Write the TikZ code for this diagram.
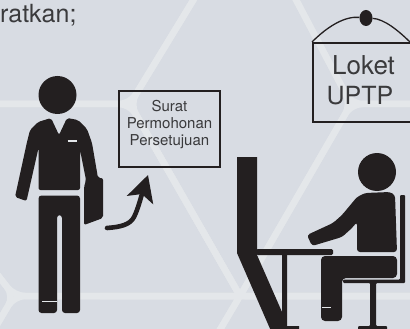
\documentclass[tikz,border=0pt]{standalone}
\usepackage{fontspec}
\setmainfont{TeX Gyre Heros}
\usetikzlibrary{arrows.meta, positioning, shapes.geometric}
\definecolor{sheetBg}{HTML}{D8DCE3}
\definecolor{sheetLine}{HTML}{E4E7EA}
\definecolor{figDark}{HTML}{231F20}
\definecolor{textDark}{HTML}{3A3A3C}

\begin{document}
\begin{tikzpicture}[
  x=1pt, y=-1pt,
  bgline/.style={draw=sheetLine, line width=6.5pt, rounded corners=11pt, line join=round},
  fig/.style={fill=figDark, draw=none},
  slit/.style={draw=sheetLine, line width=0.8pt},
  signbox/.style={draw=figDark, line width=2pt, inner sep=0pt},
  lbl/.style={text=textDark, inner sep=0pt, anchor=base},
  curve/.style={-{Stealth[length=26pt, width=27pt, inset=6pt]}, color=figDark, line width=4.6pt, line cap=round}
]
\useasboundingbox (0,0) rectangle (410,329);
\clip (0,0) rectangle (410,329);
\fill[sheetBg] (0,0) rectangle (410,329);

\draw[bgline] (-10,104) -- (130,104) -- (197,-6);
\draw[bgline] (-10,104) -- (130,104) -- (240,296);
\draw[bgline] (197,-6) -- (130,104) -- (240,296);
\draw[bgline] (293,-6) -- (351,104) -- (240,296) -- (218,333);
\draw[bgline] (293,-6) -- (351,104) -- (420,104);
\draw[bgline] (420,104) -- (351,104) -- (240,296);
\draw[bgline] (-14,260) -- (14,296) -- (420,296);
\draw[bgline] (-8,333) -- (14,296) -- (420,296);
\draw[bgline] (-14,260) -- (14,296) -- (-8,333);
\draw[bgline, rounded corners=5pt] (130,104) -- (240,296) -- (420,296);
\draw[bgline, rounded corners=5pt] (218,333) -- (240,296) -- (100,296);

\node[lbl, anchor=base west, font=\fontsize{25}{29}\selectfont] (stepText) at (0,23) {ratkan;};

% standing figure
\fill[fig] (57.5,95) circle (19);
\fill[fig, rounded corners=2pt] (51,118) -- (59,135) -- (67,118) -- (78,120) -- (87,129) -- (92,143)
  -- (98,178) -- (103,178) -- (103,218) -- (84,225) -- (84,187) -- (86,180) -- (80,150)
  -- (80,190) -- (38.5,190) -- (38.5,148) -- (26.5,201) -- (15,197) -- (27,142) -- (30,130) -- (38,122) -- cycle;
\fill[fig, rounded corners=3pt] (38.5,195.5) -- (80,195.5) -- (80,313) -- (62,313) -- (62,215) -- (57,215) -- (57,313) -- (38.5,313) -- cycle;
\draw[sheetLine, line width=1.6pt] (67.5,141) -- (77,141);
\draw[slit] (42,301) -- (57,301);

\node[signbox, minimum width=101pt, minimum height=76pt] (suratBox) at (169.5,129) {};
\node[lbl, align=center, font=\fontsize{15}{17.5}\selectfont] (suratText) at (169.5,146) {Surat\\Permohonan\\Persetujuan};

\coordinate (curveStart) at (107,228);
\coordinate (curveEnd) at (148,175);
\draw[curve] (curveStart) .. controls (120,227) and (130,225) .. (134,217) .. controls (138,209) and (141,197) .. (curveEnd);

% sign
\node[signbox, minimum width=105pt, minimum height=79pt] (loketBox) at (365.5,82.5) {};
\node[lbl, font=\fontsize{26}{30}\selectfont] (loketTop) at (363.5,75) {Loket};
\node[lbl, font=\fontsize{25}{30}\selectfont] (loketBottom) at (360,105) {UPTP};
\node[fig, ellipse, minimum width=13pt, minimum height=16pt, inner sep=0pt] (nail) at (366,18) {};
\draw[figDark, line width=1.3pt] (loketBox.north west) .. controls (328,26) and (345,16) .. (nail);
\draw[figDark, line width=1.3pt] (nail) .. controls (384,19) and (398,30) .. (412,44);

% desk
\fill[fig] (237,157) -- (257,157) -- (257,255) -- (282,312) -- (282,331) -- (271,331) -- (237,253) -- cycle;
\fill[fig, rounded corners=1.5pt] (256,249) -- (333,249) -- (333,255) -- (256,255) -- cycle;
\fill[fig] (282,254) -- (287,254) -- (287,326) -- (299,326) -- (299,331) -- (282,331) -- cycle;

% seated figure
\fill[fig] (377,172) circle (19);
\fill[fig, rounded corners=3pt] (357,252) -- (357,222) -- (352,228) -- (342,237) -- (312,246) -- (307,235) -- (333,223) -- (342,215) -- (357,197) -- (365,193) -- (390,192) -- (395,195) -- (397,252) -- cycle;
\fill[fig, rounded corners=4pt] (321,256) -- (397,256) -- (397,278) -- (342,278) -- (342,321) -- (321,321) -- cycle;
\draw[slit] (322,307) -- (331,307);

% chair
\fill[fig, rounded corners=1pt] (400,195) -- (405,195) -- (405,283) -- (376,283) -- (376,326) -- (387,326) -- (387,331) -- (358,331) -- (358,326) -- (370,326) -- (370,283) -- (343,283) -- (343,279.5) -- (400,279.5) -- cycle;
\end{tikzpicture}
\end{document}
